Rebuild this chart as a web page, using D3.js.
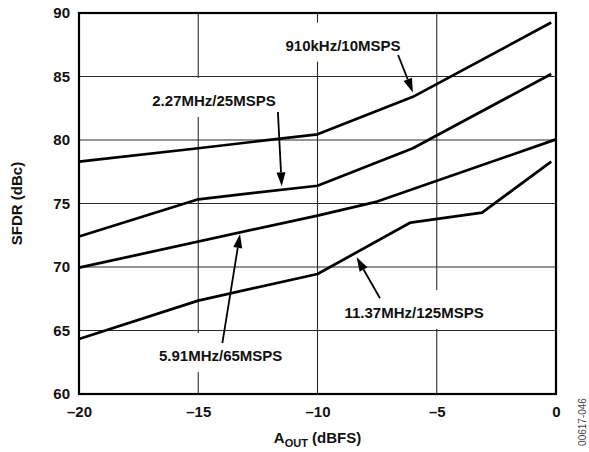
<!DOCTYPE html>
<html>
<head>
<meta charset="utf-8">
<script src="https://cdn.jsdelivr.net/npm/d3@7"></script>
<style>
  html, body { margin: 0; padding: 0; background: #fff; }
  svg { display: block; }
  text { font-family: "Liberation Sans", Arial, sans-serif; }
</style>
</head>
<body>
<div id="chart"></div>
<script>
// ---- data ----
const xTicks = [-20, -15, -10, -5, 0];
const yTicks = [60, 65, 70, 75, 80, 85, 90];

const aout910k = [-20, -15, -10, -6, -0.2];
const sfdr910k = [78.3, 79.35, 80.45, 83.4, 89.25];

const aout227M = [-20, -15, -10, -6, -0.2];
const sfdr227M = [72.4, 75.33, 76.4, 79.35, 85.2];

const aout591M = [-20, -10, -7.5, 0];
const sfdr591M = [69.95, 74.05, 75.15, 80.05];

const aout1137M = [-20, -15, -10, -6.1, -3.1, -0.2];
const sfdr1137M = [64.33, 67.35, 69.45, 73.5, 74.28, 78.3];

const seriesLabels = ["910kHz/10MSPS", "2.27MHz/25MSPS", "5.91MHz/65MSPS", "11.37MHz/125MSPS"];

// ---- layout ----
const W = 589, H = 452;
const margin = { left: 79, top: 13, right: 33, bottom: 58 };
const iw = W - margin.left - margin.right;
const ih = H - margin.top - margin.bottom;

const x = d3.scaleLinear().domain([-20, 0]).range([margin.left, margin.left + iw]);
const y = d3.scaleLinear().domain([60, 90]).range([margin.top + ih, margin.top]);

const svg = d3.select("#chart").append("svg")
  .attr("width", W).attr("height", H);

// gridlines
const grid = svg.append("g");
grid.selectAll("line.v").data(xTicks.slice(1, -1)).join("line")
  .attr("x1", d => x(d)).attr("x2", d => x(d))
  .attr("y1", y(60)).attr("y2", y(90))
  .attr("stroke", "#2a2a2a").attr("stroke-width", 1.1);
grid.selectAll("line.h").data(yTicks.slice(1, -1)).join("line")
  .attr("y1", d => y(d)).attr("y2", d => y(d))
  .attr("x1", x(-20)).attr("x2", x(0))
  .attr("stroke", "#2a2a2a").attr("stroke-width", 1.1);

// annotations (label position, arrow start, arrow tip in data units)
const annotations = [
  { text: seriesLabels[0], lx: -8.93, ly: 87.45, ax: -6.62, ay: 86.69, tx: -6.0, ty: 83.75 },
  { text: seriesLabels[1], lx: -14.34, ly: 83.1, ax: -11.66, ay: 82.2, tx: -11.5, ty: 76.35 },
  { text: seriesLabels[2], lx: -14.06, ly: 63.0, ax: -13.99, ay: 64.0, tx: -13.25, ty: 72.6 },
  { text: seriesLabels[3], lx: -5.95, ly: 66.4, ax: -7.38, ay: 67.54, tx: -8.36, ty: 70.76 }
];

const annG = svg.append("g");
const ann = annG.selectAll("g").data(annotations).join("g");
const rects = ann.append("rect").attr("fill", "#fff");
ann.append("text")
  .attr("x", d => x(d.lx)).attr("y", d => y(d.ly))
  .attr("text-anchor", "middle").attr("dy", "0.35em")
  .attr("font-size", 15).attr("font-weight", "bold").attr("fill", "#111")
  .text(d => d.text);
ann.each(function() {
  const g = d3.select(this);
  const bb = g.select("text").node().getBBox();
  g.select("rect")
    .attr("x", bb.x - 4).attr("y", bb.y - 14)
    .attr("width", bb.width + 8).attr("height", bb.height + 22);
});

// frame
svg.append("rect")
  .attr("x", x(-20)).attr("y", y(90))
  .attr("width", x(0) - x(-20)).attr("height", y(60) - y(90))
  .attr("fill", "none").attr("stroke", "#000").attr("stroke-width", 2.2);

// curves
const line = d3.line().x(d => x(d[0])).y(d => y(d[1]));
const curves = [
  d3.zip(aout910k, sfdr910k),
  d3.zip(aout227M, sfdr227M),
  d3.zip(aout591M, sfdr591M),
  d3.zip(aout1137M, sfdr1137M)
];
svg.append("g").selectAll("path").data(curves).join("path")
  .attr("d", line)
  .attr("fill", "none").attr("stroke", "#000")
  .attr("stroke-width", 2.7).attr("stroke-linejoin", "round");

// arrows
ann.each(function(d) {
  const g = d3.select(this);
  const x0 = x(d.ax), y0 = y(d.ay), x1 = x(d.tx), y1 = y(d.ty);
  const ang = Math.atan2(y1 - y0, x1 - x0);
  const L = 14, hw = 4.5;
  const bx = x1 - L * Math.cos(ang), by = y1 - L * Math.sin(ang);
  g.append("line")
    .attr("x1", x0).attr("y1", y0).attr("x2", bx).attr("y2", by)
    .attr("stroke", "#000").attr("stroke-width", 1.8);
  const px = -Math.sin(ang) * hw, py = Math.cos(ang) * hw;
  g.append("path")
    .attr("d", `M${x1},${y1}L${bx + px},${by + py}L${bx - px},${by - py}Z`)
    .attr("fill", "#000");
});

// axes labels
const fmt = d => (d < 0 ? "\u2013" + Math.abs(d) : String(d));
const xAxis = svg.append("g")
  .attr("transform", `translate(0,${y(60)})`)
  .call(d3.axisBottom(x).tickValues(xTicks).tickSize(0).tickPadding(12).tickFormat(fmt));
const yAxis = svg.append("g")
  .attr("transform", `translate(${x(-20)},0)`)
  .call(d3.axisLeft(y).tickValues(yTicks).tickSize(0).tickPadding(9).tickFormat(fmt));
[xAxis, yAxis].forEach(a => {
  a.select(".domain").remove();
  a.selectAll("text")
    .attr("font-family", "'Liberation Sans', Arial, sans-serif")
    .attr("font-size", 15).attr("font-weight", "bold").attr("fill", "#111");
});

// axis titles
const xt = svg.append("text")
  .attr("x", (x(-20) + x(0)) / 2).attr("y", 443)
  .attr("text-anchor", "middle")
  .attr("font-size", 15).attr("font-weight", "bold").attr("fill", "#111");
xt.append("tspan").text("A");
xt.append("tspan").attr("font-size", 11).attr("dy", 4).text("OUT");
xt.append("tspan").attr("dy", -4).text(" (dBFS)");

svg.append("text")
  .attr("transform", `translate(22,${(y(60) + y(90)) / 2}) rotate(-90)`)
  .attr("text-anchor", "middle")
  .attr("font-size", 15).attr("font-weight", "bold").attr("fill", "#111")
  .text("SFDR (dBc)");

svg.append("text")
  .attr("transform", `translate(586,422) rotate(-90)`)
  .attr("text-anchor", "middle")
  .attr("font-size", 10).attr("fill", "#444")
  .text("00617-046");
</script>
</body>
</html>
